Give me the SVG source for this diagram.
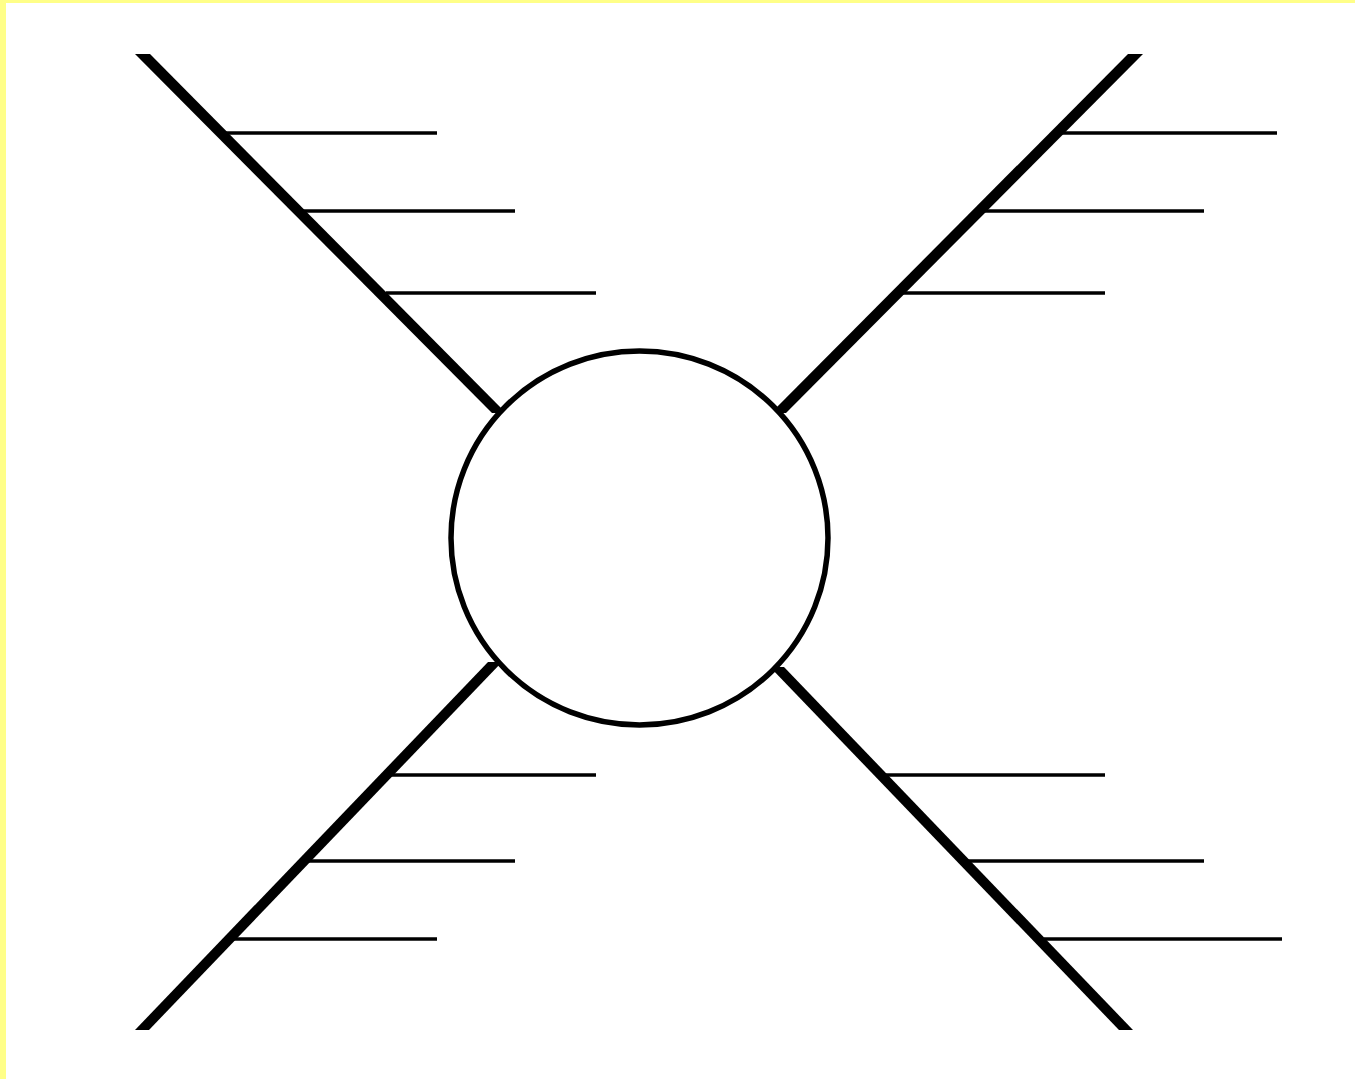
<svg xmlns="http://www.w3.org/2000/svg" width="1355" height="1079" viewBox="0 0 1355 1079">
<style>
.spoke{fill:#000;stroke:none}
.tick{stroke:#000;stroke-width:3.5;fill:none}
.hub{stroke:#000;stroke-width:5.5;fill:#fff}
</style>
<rect x="0" y="0" width="1355" height="1079" fill="#fff"/>
<rect x="0" y="0" width="1355" height="3" fill="#ffff88"/>
<rect x="0" y="0" width="6" height="1079" fill="#ffff88"/>
<g id="connectors">
<polygon class="spoke" points="135,54 150,54 506,413 492,413"/>
<polygon class="spoke" points="1128,54 1143,54 786,413 771,413"/>
<polygon class="spoke" points="135,1030 149,1030 502,662 488,662"/>
<polygon class="spoke" points="1119,1030 1133,1030 784,667 770,667"/>
</g>
<g id="ticks-top-left">
<line class="tick" x1="226" y1="133" x2="437" y2="133"/>
<line class="tick" x1="303" y1="211" x2="515" y2="211"/>
<line class="tick" x1="386" y1="293" x2="596" y2="293"/>
</g>
<g id="ticks-top-right">
<line class="tick" x1="1062" y1="133" x2="1277" y2="133"/>
<line class="tick" x1="983" y1="211" x2="1204" y2="211"/>
<line class="tick" x1="900" y1="293" x2="1105" y2="293"/>
</g>
<g id="ticks-bottom-left">
<line class="tick" x1="388" y1="775" x2="596" y2="775"/>
<line class="tick" x1="302" y1="861" x2="515" y2="861"/>
<line class="tick" x1="224" y1="939" x2="437" y2="939"/>
</g>
<g id="ticks-bottom-right">
<line class="tick" x1="880" y1="775" x2="1105" y2="775"/>
<line class="tick" x1="965" y1="861" x2="1204" y2="861"/>
<line class="tick" x1="1044" y1="939" x2="1282" y2="939"/>
</g>
<g id="hub">
<ellipse class="hub" cx="639.5" cy="538" rx="188.5" ry="187"/>
</g>
</svg>
